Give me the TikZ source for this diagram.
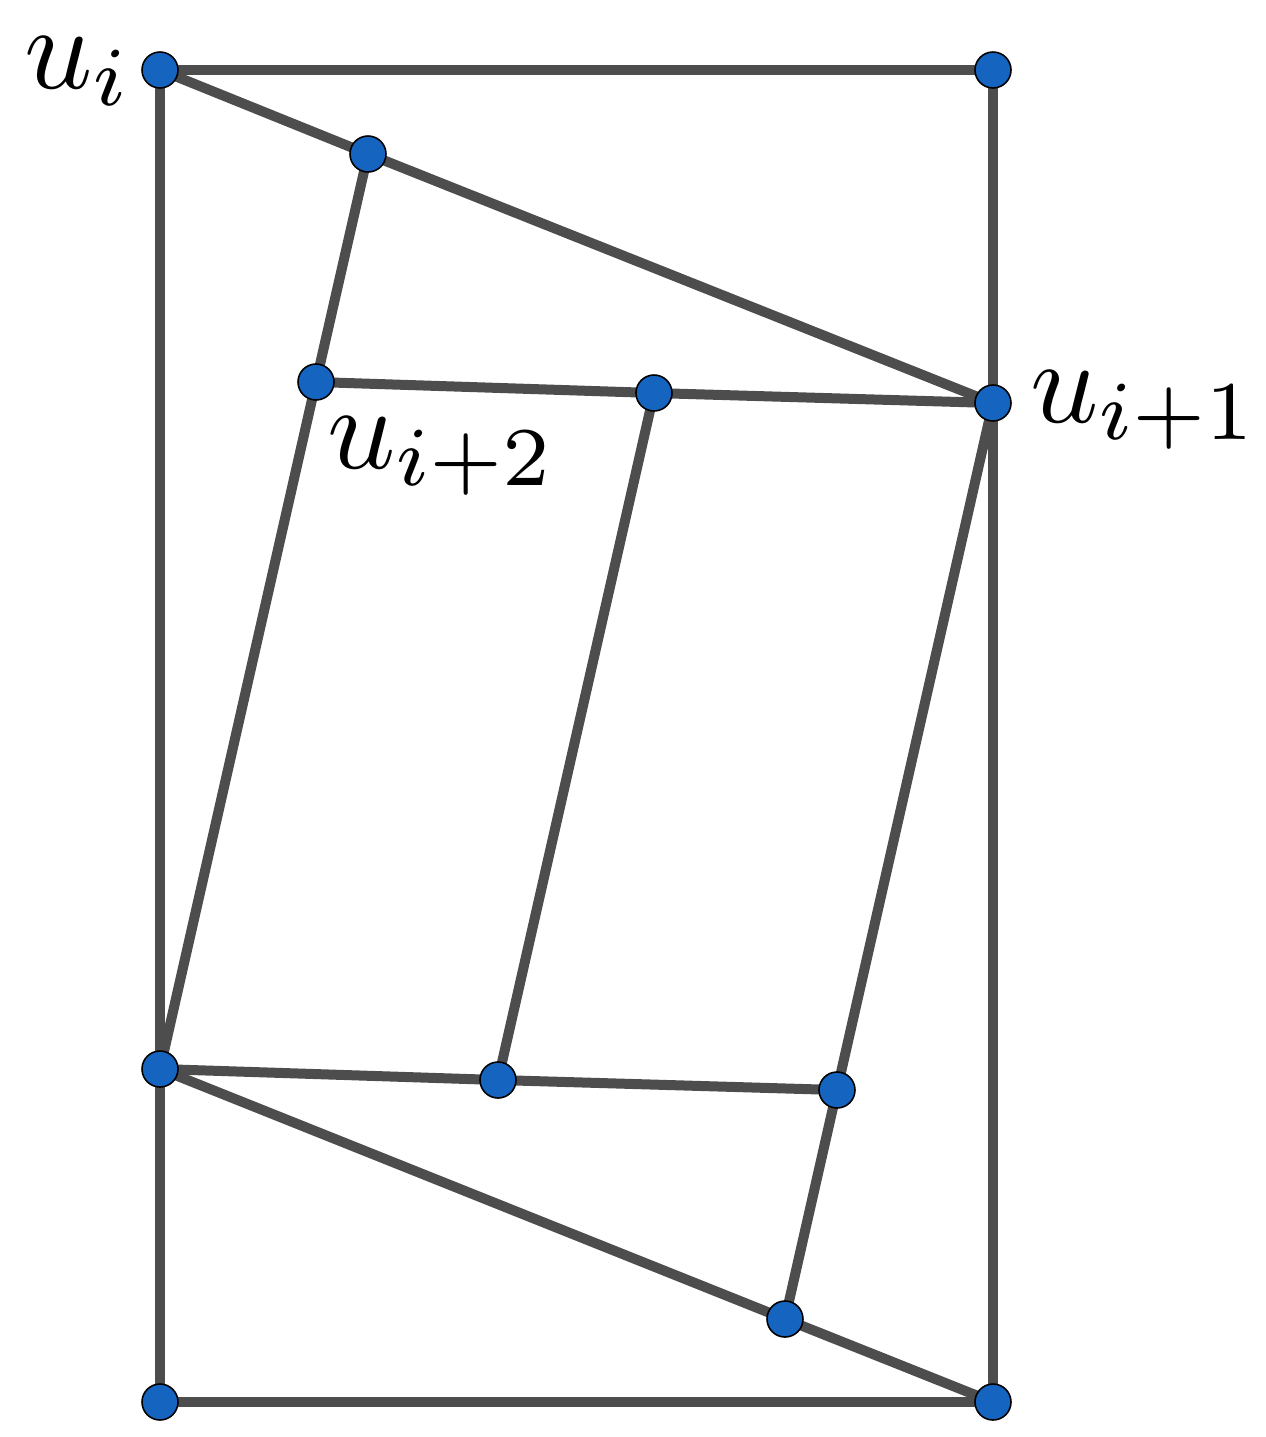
\documentclass[tikz,border=0pt]{standalone}
\usetikzlibrary{backgrounds}
\definecolor{edgegray}{HTML}{4D4D4D}
\definecolor{dotblue}{HTML}{1565C0}
\begin{document}
\begin{tikzpicture}[x=0.02cm,y=-0.02cm,
  edge/.style={draw=edgegray,line width=0.2cm},
  dot/.style={circle,fill=dotblue,draw=black,line width=0.9pt,minimum size=0.72cm,inner sep=0},
  lab/.style={scale=6.8,anchor=base west,inner sep=0}]
\useasboundingbox (0,0) rectangle (1265,1437);
\node[dot] (A) at (160,70) {};
\node[dot] (B) at (993,70) {};
\node[dot] (C) at (368,154) {};
\node[dot] (D) at (993,403) {};
\node[dot] (E) at (316,382) {};
\node[dot] (F) at (654,393) {};
\node[dot] (G) at (160,1069) {};
\node[dot] (H) at (498,1080) {};
\node[dot] (I) at (837,1090) {};
\node[dot] (J) at (785,1319) {};
\node[dot] (K) at (160,1402) {};
\node[dot] (L) at (993,1402) {};
\begin{pgfonlayer}{background}
\draw[edge] (A.center) -- (B.center);
\draw[edge] (A.center) -- (K.center);
\draw[edge] (B.center) -- (L.center);
\draw[edge] (K.center) -- (L.center);
\draw[edge] (A.center) -- (C.center) -- (D.center);
\draw[edge] (C.center) -- (E.center) -- (G.center);
\draw[edge] (E.center) -- (F.center) -- (D.center);
\draw[edge] (F.center) -- (H.center);
\draw[edge] (D.center) -- (I.center) -- (J.center);
\draw[edge] (G.center) -- (H.center) -- (I.center);
\draw[edge] (G.center) -- (J.center) -- (L.center);
\end{pgfonlayer}
\node[lab] (la) at (22,88) {$u_i$};
\node[lab] (lb) at (1028,422) {$u_{i+1}$};
\node[lab] (lc) at (325,468) {$u_{i+2}$};
\end{tikzpicture}
\end{document}
